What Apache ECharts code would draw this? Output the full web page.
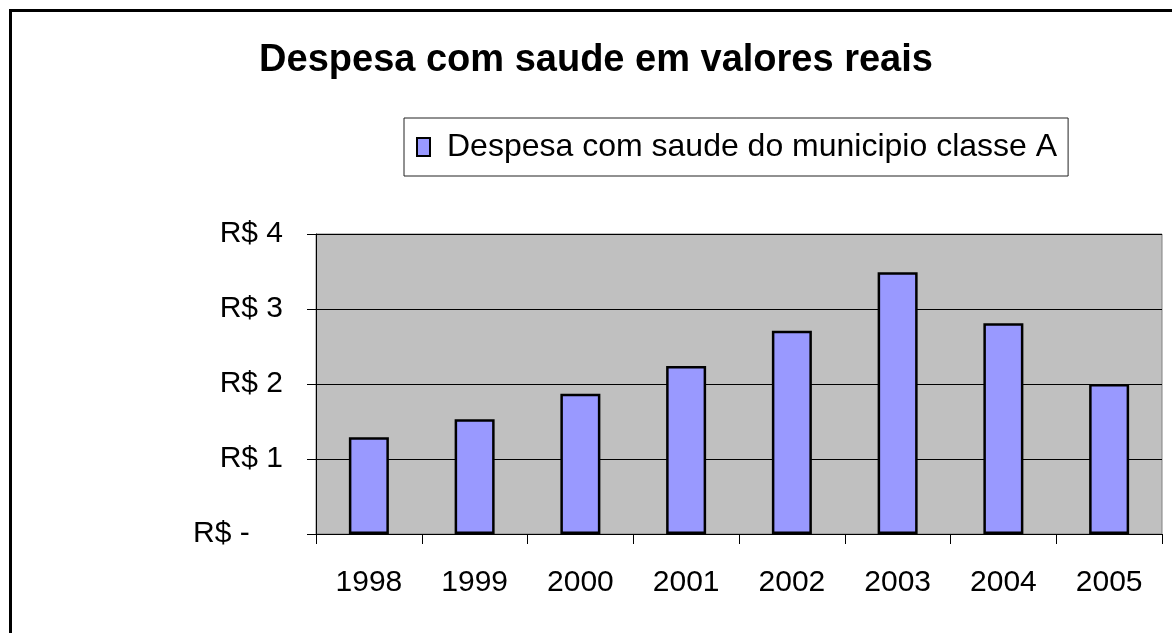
<!DOCTYPE html>
<html>

<head>
  <meta charset="utf-8">
  <title>ECharts</title>
  <script src="https://cdn.jsdelivr.net/npm/echarts@6/dist/echarts.min.js"></script>
  <style>
    body { margin: 0; background: #fff; }
  </style>
</head>

<body>
  <div id="main" style="width: 1172px;height:633px;"></div>
  <script type="text/javascript">
    var anos = ['1998', '1999', '2000', '2001', '2002', '2003', '2004', '2005'];
    var despesa = [1.29, 1.53, 1.87, 2.24, 2.71, 3.49, 2.81, 2.00];
    var yTicks = [0, 1, 2, 3, 4];

    var fonte = "'Liberation Sans', Arial, sans-serif";
    var myChart = echarts.init(document.getElementById('main'));

    var option = {
      animation: false,
      backgroundColor: '#fff',
      title: {
        text: 'Despesa com saude em valores reais',
        left: 596,
        top: 42,
        padding: 0,
        textAlign: 'center',
        textStyle: { fontFamily: fonte, fontSize: 38, fontWeight: 'bold', color: '#000' }
      },
      legend: {
        data: ['Despesa com saude do municipio classe A'],
        left: 404,
        top: 118,
        padding: [13, 11, 13, 12],
        borderColor: '#222',
        borderWidth: 1,
        icon: 'rect',
        itemWidth: 13,
        itemHeight: 18,
        itemStyle: { borderColor: '#000', borderWidth: 2 },
        textStyle: { fontFamily: fonte, fontSize: 32, color: '#000', padding: [0, 0, 0, 12] }
      },
      grid: {
        left: 316,
        top: 234,
        right: 10,
        bottom: 99,
        show: true,
        backgroundColor: '#c0c0c0',
        borderColor: '#808080',
        borderWidth: 1
      },
      xAxis: {
        type: 'category',
        data: anos,
        axisLine: { lineStyle: { color: '#000', width: 1 } },
        axisTick: { show: true, length: 10, lineStyle: { color: '#000' } },
        axisLabel: { fontFamily: fonte, fontSize: 30, color: '#000', margin: 34 }
      },
      yAxis: {
        type: 'value',
        min: yTicks[0],
        max: yTicks[yTicks.length - 1],
        interval: 1,
        axisLine: { show: true, lineStyle: { color: '#000', width: 1 } },
        axisTick: { show: true, length: 9, lineStyle: { color: '#000' } },
        splitLine: { lineStyle: { color: '#000', width: 1 } },
        axisLabel: {
          fontFamily: fonte,
          fontSize: 30,
          color: '#000',
          margin: 33,
          formatter: function (v) {
            return v === 0 ? 'R$ -    ' : 'R$ ' + v;
          }
        }
      },
      series: [{
        name: 'Despesa com saude do municipio classe A',
        type: 'bar',
        barWidth: 40,
        data: despesa,
        itemStyle: { color: '#9999ff', borderColor: '#000', borderWidth: 2.5 }
      }],
      graphic: [{
        type: 'rect',
        shape: { x: 10.5, y: 10.5, width: 1300, height: 800 },
        style: { fill: null, stroke: '#000', lineWidth: 3 },
        silent: true
      }]
    };

    myChart.setOption(option);
  </script>
</body>

</html>
